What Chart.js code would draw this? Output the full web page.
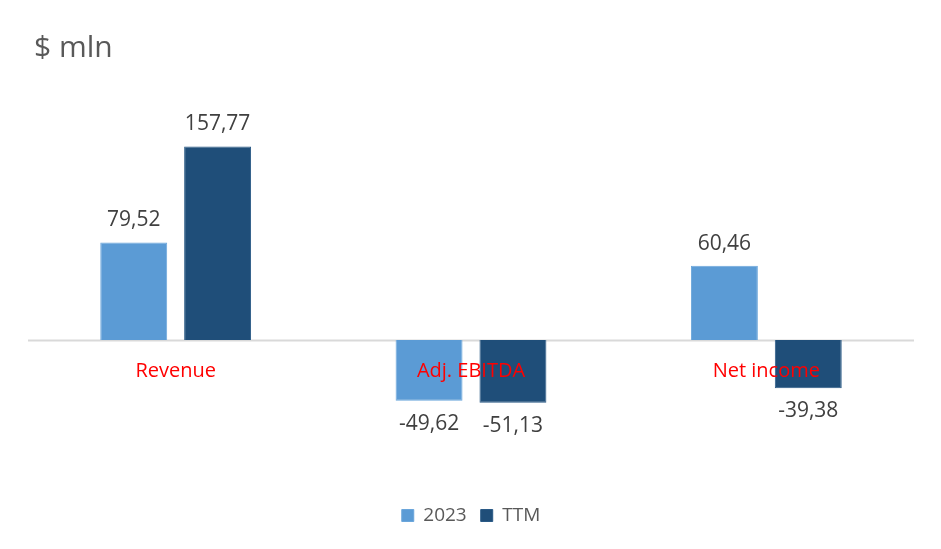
<!DOCTYPE html>
<html>
<head>
<meta charset="utf-8">
<script src="https://cdn.jsdelivr.net/npm/chart.js@4/dist/chart.umd.min.js"></script>
<style>
html,body{margin:0;padding:0;background:#fff;}
#wrap{width:941px;height:549px;position:relative;}
</style>
</head>
<body>
<div id="wrap"><canvas id="c" width="941" height="549"></canvas></div>
<script>
const categories = ["Revenue", "Adj. EBITDA", "Net income"];
const series2023 = [79.52, -49.62, 60.46];
const seriesTTM = [157.77, -51.13, -39.38];
const seriesNames = ["2023", "TTM"];
const titleText = "$ mln";

const FONT = "'Open Sans', 'Noto Sans', sans-serif";
const fmt = v => v.toFixed(2).replace('.', ',');

const overlay = {
  id: 'overlay',
  beforeDatasetsDraw(chart) {
    const ctx = chart.ctx, y = chart.scales.y, a = chart.chartArea;
    const py = Math.round(y.getPixelForValue(0)) + 0.5;
    ctx.save();
    ctx.strokeStyle = '#d9d9d9';
    ctx.lineWidth = 2;
    ctx.beginPath();
    ctx.moveTo(a.left, py); ctx.lineTo(a.right, py);
    ctx.stroke();
    ctx.restore();
  },
  afterDatasetsDraw(chart) {
    const ctx = chart.ctx, x = chart.scales.x, y = chart.scales.y;
    ctx.save();
    // value labels
    ctx.font = "21px " + FONT;
    ctx.fillStyle = '#404040';
    ctx.textAlign = 'center';
    ctx.textBaseline = 'middle';
    chart.data.datasets.forEach((ds, di) => {
      const meta = chart.getDatasetMeta(di);
      meta.data.forEach((bar, i) => {
        const v = ds.data[i];
        const off = v >= 0 ? -22 : 23;
        ctx.fillText(fmt(v), bar.x, bar.y + off);
      });
    });
    // category labels
    ctx.font = "20px " + FONT;
    ctx.fillStyle = '#ff0000';
    const z = y.getPixelForValue(0);
    categories.forEach((c, i) => {
      ctx.fillText(c, x.getPixelForValue(i), z + 31);
    });
    // title
    ctx.font = "30px " + FONT;
    ctx.fillStyle = '#595959';
    ctx.textAlign = 'left';
    ctx.textBaseline = 'alphabetic';
    ctx.fillText(titleText, 34, 57);
    ctx.restore();
  }
};

new Chart(document.getElementById('c'), {
  type: 'bar',
  data: {
    labels: categories,
    datasets: [
      { label: seriesNames[0], data: series2023, backgroundColor: '#5b9bd5', borderColor: '#6ba6db', borderWidth: 1 },
      { label: seriesNames[1], data: seriesTTM, backgroundColor: '#1f4e79', borderColor: '#2a5a86', borderWidth: 1 }
    ]
  },
  options: {
    responsive: false,
    animation: false,
    devicePixelRatio: 1,
    layout: { padding: { left: 28, right: 27, top: 101, bottom: 14 } },
    datasets: { bar: { categoryPercentage: 0.568, barPercentage: 0.798 } },
    scales: {
      x: { display: false },
      y: { display: false, min: -124, max: 194.8 }
    },
    plugins: {
      legend: {
        position: 'bottom',
        labels: {
          font: { family: FONT, size: 19 },
          color: '#595959',
          boxWidth: 12,
          boxHeight: 12,
          padding: 14
        }
      },
      title: { display: false },
      tooltip: { enabled: false }
    }
  },
  plugins: [overlay]
});
</script>
</body>
</html>
